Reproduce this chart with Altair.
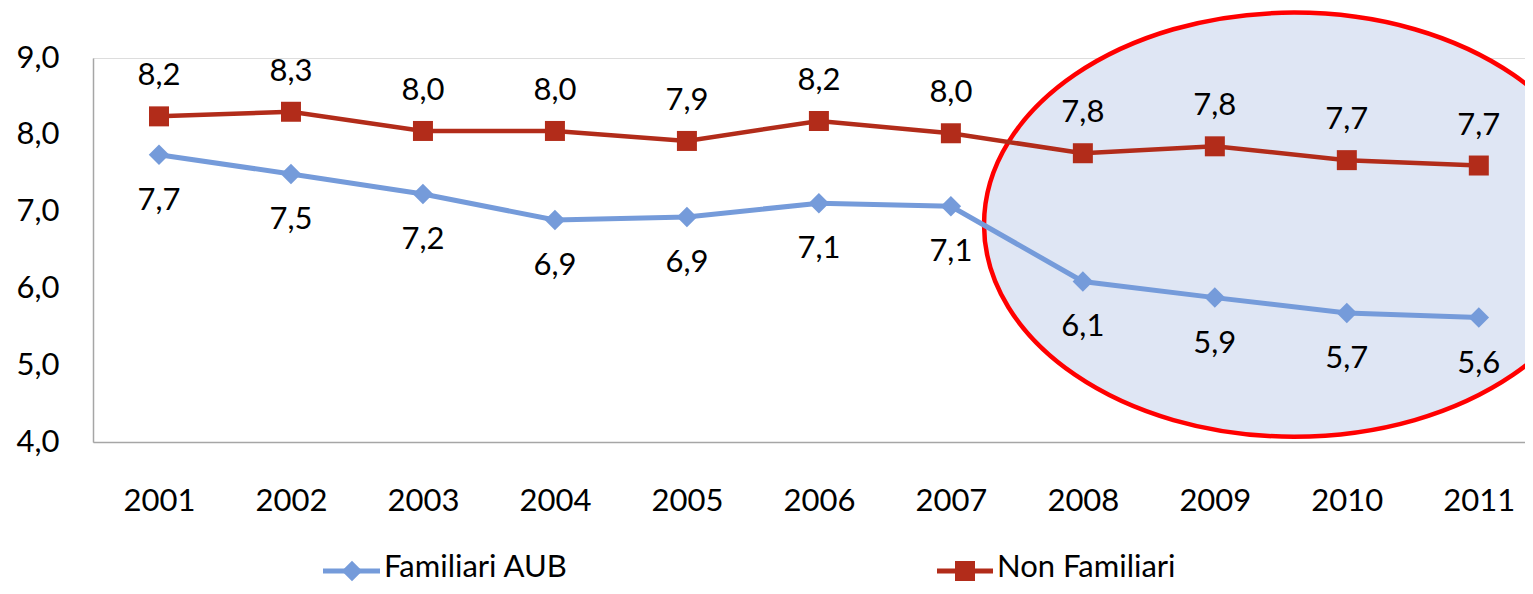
import altair as alt
import pandas as pd

years = [2001, 2002, 2003, 2004, 2005, 2006, 2007, 2008, 2009, 2010, 2011]
familiari = [7.74, 7.49, 7.23, 6.89, 6.93, 7.11, 7.07, 6.09, 5.88, 5.68, 5.62]
non_familiari = [8.24, 8.30, 8.05, 8.05, 7.92, 8.18, 8.02, 7.76, 7.85, 7.67, 7.60]
familiari_labels = ["7,7", "7,5", "7,2", "6,9", "6,9", "7,1", "7,1", "6,1", "5,9", "5,7", "5,6"]
non_familiari_labels = ["8,2", "8,3", "8,0", "8,0", "7,9", "8,2", "8,0", "7,8", "7,8", "7,7", "7,7"]
series_names = ["Familiari AUB", "Non Familiari"]
y_ticks = [4, 5, 6, 7, 8, 9]

# highlighted region (2008-2011) centre
highlight_center_year = [2009.6]
highlight_center_value = [6.83]

BLUE = "#759bda"
RED = "#b22c1a"
FONT = "Lato"
FS = 31

df_f = pd.DataFrame({"year": years, "value": familiari, "label": familiari_labels})
df_n = pd.DataFrame({"year": years, "value": non_familiari, "label": non_familiari_labels})
df_h = pd.DataFrame({"year": highlight_center_year, "value": highlight_center_value})

x_scale = alt.Scale(domain=[2000.5, 2011.35], nice=False, zero=False)
y_scale = alt.Scale(domain=[4, 9], nice=False, zero=False)

x_enc = alt.X(
    "year:Q",
    scale=x_scale,
    axis=alt.Axis(
        title=None,
        values=years,
        labelExpr="format(datum.value, 'd')",
        grid=False,
        ticks=False,
        tickSize=0,
        labelPadding=44,
        labelFont=FONT,
        labelFontSize=FS,
        labelColor="#000000",
        domainColor="#a6a6a6",
        domainWidth=1.5,
    ),
)
y_enc = alt.Y(
    "value:Q",
    scale=y_scale,
    axis=alt.Axis(
        title=None,
        values=y_ticks,
        labelExpr="replace(format(datum.value, '.1f'), '.', ',')",
        grid=False,
        ticks=False,
        tickSize=0,
        labelPadding=34,
        labelFont=FONT,
        labelFontSize=FS,
        labelColor="#000000",
        domainColor="#a6a6a6",
        domainWidth=1.5,
    ),
)

ellipse_path = (
    "M-1,0C-1,-0.378 -0.552,-0.684 0,-0.684C0.552,-0.684 1,-0.378 1,0"
    "C1,0.378 0.552,0.684 0,0.684C-0.552,0.684 -1,0.378 -1,0Z"
)
highlight = alt.Chart(df_h).mark_point(
    shape=ellipse_path,
    size=620 * 620,
    filled=True,
    fill="#dfe6f4",
    fillOpacity=1,
    stroke="#ff0000",
    strokeWidth=4.5,
    opacity=1,
).encode(x=x_enc, y=y_enc)

line_f = alt.Chart(df_f).mark_line(color=BLUE, strokeWidth=5).encode(x=x_enc, y=y_enc)
line_n = alt.Chart(df_n).mark_line(color=RED, strokeWidth=4.5).encode(x=x_enc, y=y_enc)
pts_f = alt.Chart(df_f).mark_point(
    shape="diamond", size=420, filled=True, color=BLUE, opacity=1
).encode(x=x_enc, y=y_enc)
pts_n = alt.Chart(df_n).mark_point(
    shape="square", size=400, filled=True, color=RED, opacity=1
).encode(x=x_enc, y=y_enc)
lab_f = alt.Chart(df_f).mark_text(
    font=FONT, fontSize=FS, color="#000000", baseline="middle", dy=46
).encode(x=x_enc, y=y_enc, text="label:N")
lab_n = alt.Chart(df_n).mark_text(
    font=FONT, fontSize=FS, color="#000000", baseline="middle", dy=-40
).encode(x=x_enc, y=y_enc, text="label:N")

# manual legend (Excel style: line through marker)
leg_df_f = pd.DataFrame({"s": [series_names[0]]})
leg_df_n = pd.DataFrame({"s": [series_names[1]]})
LEG_Y = 513
leg_line_f = alt.Chart(leg_df_f).mark_rule(color=BLUE, strokeWidth=5).encode(
    x=alt.value(230), x2=alt.value(287), y=alt.value(LEG_Y)
)
leg_pt_f = alt.Chart(leg_df_f).mark_point(
    shape="diamond", size=420, filled=True, color=BLUE, opacity=1
).encode(x=alt.value(259), y=alt.value(LEG_Y))
leg_txt_f = alt.Chart(leg_df_f).mark_text(
    font=FONT, fontSize=FS, color="#000000", align="left", baseline="middle"
).encode(x=alt.value(291), y=alt.value(LEG_Y - 3), text="s:N")
leg_line_n = alt.Chart(leg_df_n).mark_rule(color=RED, strokeWidth=5).encode(
    x=alt.value(844), x2=alt.value(900), y=alt.value(LEG_Y)
)
leg_pt_n = alt.Chart(leg_df_n).mark_point(
    shape="square", size=400, filled=True, color=RED, opacity=1
).encode(x=alt.value(872), y=alt.value(LEG_Y))
leg_txt_n = alt.Chart(leg_df_n).mark_text(
    font=FONT, fontSize=FS, color="#000000", align="left", baseline="middle"
).encode(x=alt.value(904), y=alt.value(LEG_Y - 3), text="s:N")

chart = alt.layer(
    highlight, line_f, line_n, pts_f, pts_n, lab_f, lab_n,
    leg_line_f, leg_pt_f, leg_txt_f, leg_line_n, leg_pt_n, leg_txt_n,
).properties(
    width=1432,
    height=384,
    autosize=alt.AutoSizeParams(type="none"),
    padding={"left": 85, "top": 50, "right": 0, "bottom": 144},
).configure_view(stroke=None).configure(background="#ffffff")

chart.save("out.html", embed_options={"renderer": "svg", "actions": False})
